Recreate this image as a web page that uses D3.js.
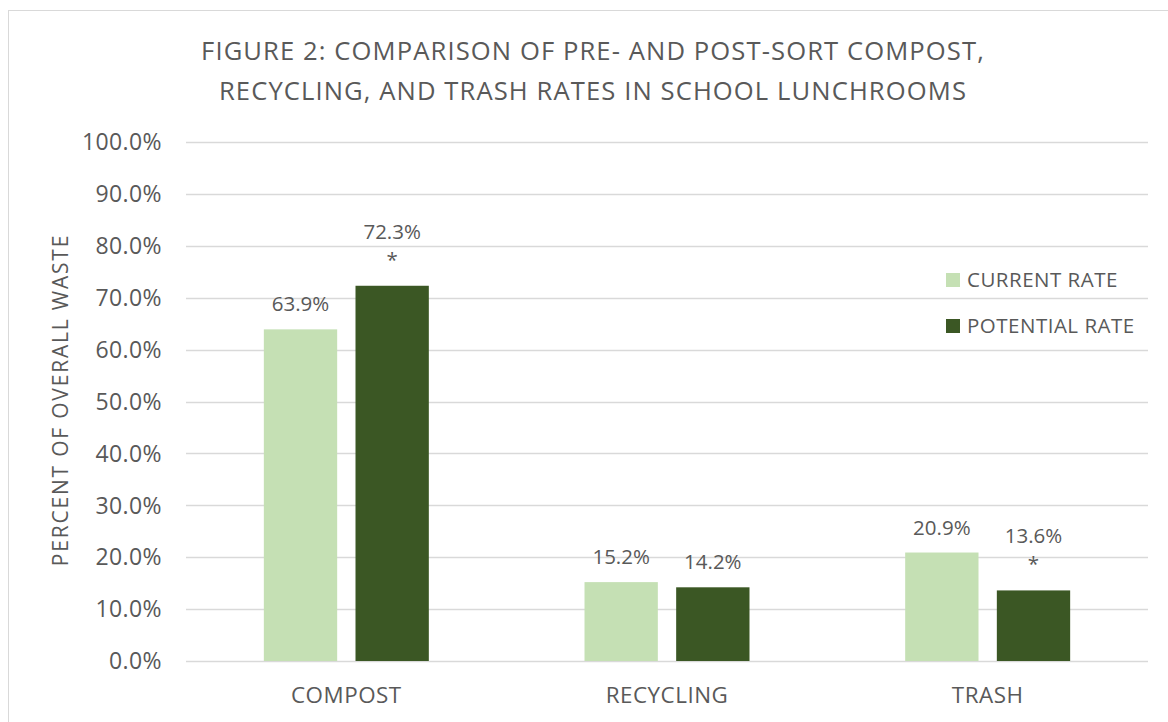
<!DOCTYPE html>
<html>
<head>
<meta charset="utf-8">
<script src="https://cdn.jsdelivr.net/npm/d3@7"></script>
<style>
  body { margin: 0; background: #fff; }
  text { font-family: "Open Sans", sans-serif; fill: #595959; }
</style>
</head>
<body>
<svg id="chart"></svg>
<script>
// Data
const categories = ['COMPOST', 'RECYCLING', 'TRASH'];
const seriesNames = ['CURRENT RATE', 'POTENTIAL RATE'];
const currentRate = [63.9, 15.2, 20.9];
const potentialRate = [72.3, 14.2, 13.6];
// significant change marked with an asterisk
const currentStar = [false, false, false];
const potentialStar = [true, false, true];
const yTicks = [0, 10, 20, 30, 40, 50, 60, 70, 80, 90, 100];
const titleLines = ['FIGURE 2: COMPARISON OF PRE- AND POST-SORT COMPOST,',
  'RECYCLING, AND TRASH RATES IN SCHOOL LUNCHROOMS'];

const colors = ['#c5e0b4', '#3b5724'];

const width = 1168;
const height = 722;

const svg = d3.select('#chart')
  .attr('width', width)
  .attr('height', height);

// chart border
svg.append('rect')
  .attr('x', 8.5).attr('y', 10.5)
  .attr('width', 1160).attr('height', 720)
  .attr('fill', 'none')
  .attr('stroke', '#d9d9d9');

// Title
svg.append('text')
  .attr('text-anchor', 'middle')
  .attr('font-size', 25.6)
  .attr('letter-spacing', 1.1)
  .selectAll('tspan')
  .data(titleLines)
  .join('tspan')
  .attr('x', 593)
  .attr('y', (d, i) => 60 + i * 40)
  .text(d => d);

// Scales
const x0 = d3.scaleBand()
  .domain(categories)
  .range([186, 1148])
  .paddingInner(0.4855)
  .paddingOuter(0.4855 / 2);

const x1 = d3.scaleBand()
  .domain(seriesNames)
  .range([0, x0.bandwidth()])
  .paddingInner(0.2);

const y = d3.scaleLinear()
  .domain([0, 100])
  .range([661, 142]);

// Gridlines
svg.append('g')
  .selectAll('line')
  .data(yTicks)
  .join('line')
  .attr('x1', 186).attr('x2', 1148)
  .attr('y1', d => Math.round(y(d)) + 0.5)
  .attr('y2', d => Math.round(y(d)) + 0.5)
  .attr('stroke', '#d9d9d9')
  .attr('stroke-width', 1.3);

// Y tick labels
svg.append('g')
  .selectAll('text')
  .data(yTicks)
  .join('text')
  .attr('x', 162)
  .attr('y', d => y(d))
  .attr('dy', '0.36em')
  .attr('text-anchor', 'end')
  .attr('font-size', 23)
  .attr('letter-spacing', 0.4)
  .text(d => d3.format('.1f')(d) + '%');

// Y axis title
svg.append('text')
  .attr('transform', `translate(67.5, 400) rotate(-90)`)
  .attr('text-anchor', 'middle')
  .attr('font-size', 21)
  .attr('letter-spacing', 1.8)
  .text('PERCENT OF OVERALL WASTE');

// Category labels
svg.append('g')
  .selectAll('text')
  .data(categories)
  .join('text')
  .attr('x', d => x0(d) + x0.bandwidth() / 2)
  .attr('y', 703)
  .attr('text-anchor', 'middle')
  .attr('font-size', 22.4)
  .attr('letter-spacing', 0.5)
  .text(d => d);

// Build rows for bars
const rows = categories.map((c, i) => ({
  category: c,
  values: [
    { series: seriesNames[0], value: currentRate[i], star: currentStar[i], color: colors[0] },
    { series: seriesNames[1], value: potentialRate[i], star: potentialStar[i], color: colors[1] }
  ]
}));

const groups = svg.append('g')
  .selectAll('g')
  .data(rows)
  .join('g')
  .attr('transform', d => `translate(${x0(d.category)}, 0)`);

groups.selectAll('rect')
  .data(d => d.values)
  .join('rect')
  .attr('x', d => x1(d.series))
  .attr('width', x1.bandwidth())
  .attr('y', d => y(d.value))
  .attr('height', d => y(0) - y(d.value))
  .attr('fill', d => d.color);

// Value labels (with asterisk line where marked)
const labels = groups.selectAll('text')
  .data(d => d.values)
  .join('text')
  .attr('text-anchor', 'middle')
  .attr('font-size', 20.5)
  .attr('fill', '#404040');

labels.append('tspan')
  .attr('x', d => x1(d.series) + x1.bandwidth() / 2)
  .attr('y', d => y(d.value) - (d.star ? 47 : 18))
  .text(d => d3.format('.1f')(d.value) + '%');

labels.filter(d => d.star)
  .append('tspan')
  .attr('x', d => x1(d.series) + x1.bandwidth() / 2)
  .attr('y', d => y(d.value) - 19)
  .text('*');

// Legend
const legend = svg.append('g')
  .selectAll('g')
  .data(seriesNames)
  .join('g')
  .attr('transform', (d, i) => `translate(946, ${273 + i * 46})`);

legend.append('rect')
  .attr('width', 14).attr('height', 14)
  .attr('fill', (d, i) => colors[i]);

legend.append('text')
  .attr('x', 21)
  .attr('y', 7)
  .attr('dy', '0.36em')
  .attr('font-size', 20.5)
  .attr('letter-spacing', 0.5)
  .text(d => d);
</script>
</body>
</html>
